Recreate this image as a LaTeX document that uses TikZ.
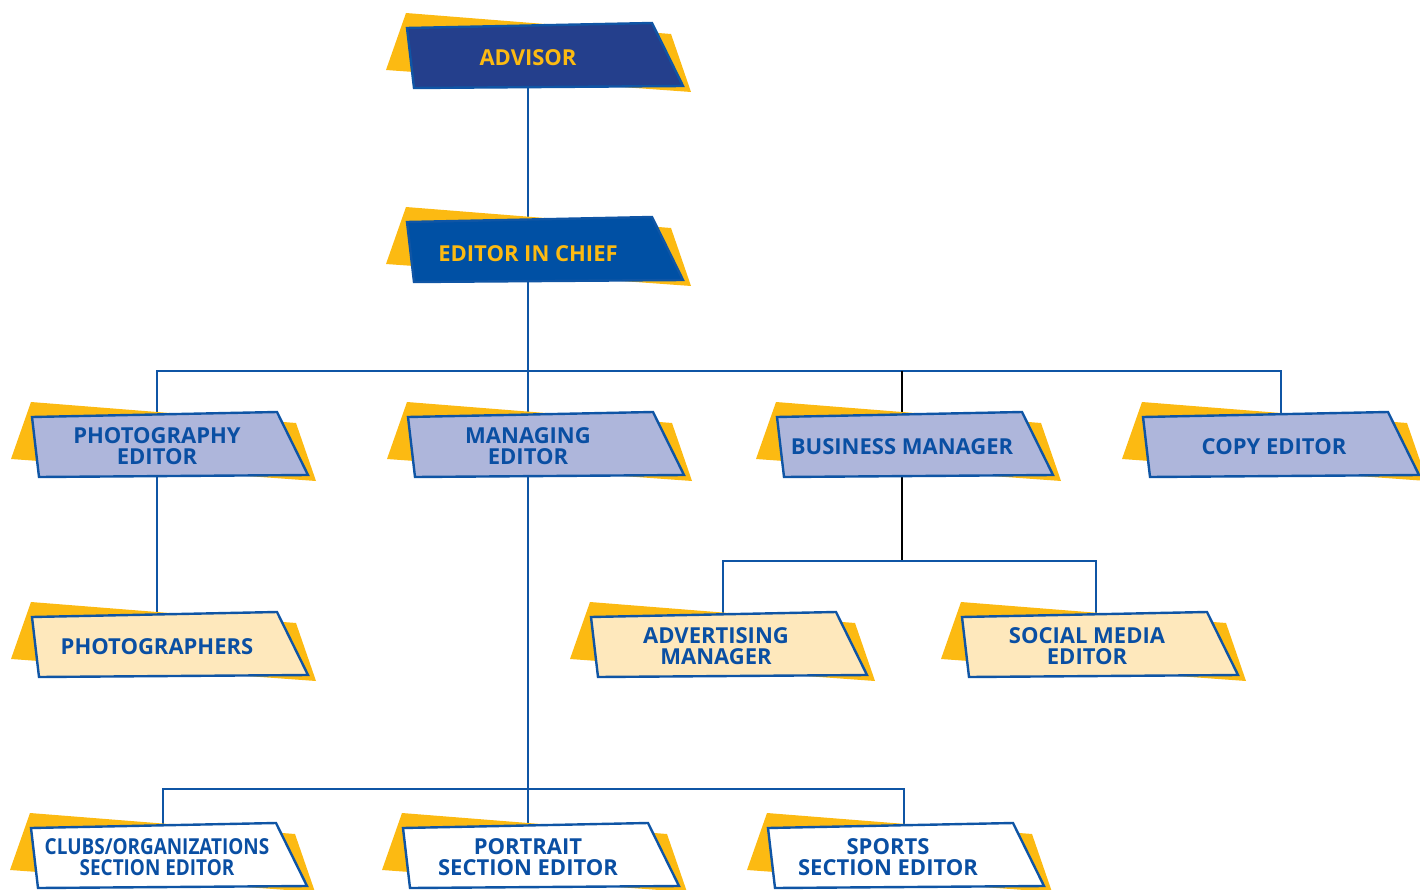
\documentclass[tikz,border=0pt]{standalone}
\usepackage{graphicx}
\usepackage{fontspec}
\setmainfont{Open Sans}
\usetikzlibrary{calc}
\pgfdeclarelayer{bg}
\pgfsetlayers{bg,main}
\definecolor{ylw}{HTML}{FCBA12}
\definecolor{navy}{HTML}{243F8C}
\definecolor{royal}{HTML}{0050A4}
\definecolor{lav}{HTML}{AEB6DB}
\definecolor{cream}{HTML}{FEE8BC}
\definecolor{tblue}{HTML}{0A4FA3}
\definecolor{lblue}{HTML}{0F55A5}
\tikzset{
  backshape/.style={fill=ylw},
  frontshape/.style={draw=lblue, line width=2.4pt, line join=miter},
  lbl/.style={inner sep=0pt, minimum width=246pt, minimum height=62pt, align=center,
    font=\bfseries\fontsize{22}{21}\selectfont},
  conn/.style={draw=lblue, line width=2.4pt},
  connk/.style={draw=black, line width=2.4pt},
}
% [#1 text y offset], #2 name, #3 centre, #4 shape x offset, #5 fill, #6 text colour, #7 text
\newcommand\orgbox[7][2]{%
  \begin{scope}[shift={#3}]
    \begin{scope}[xshift=#4pt]
      \fill[backshape] (-126,-43) -- (139,-22) -- (159,36) -- (-146,14) -- cycle;
      \filldraw[frontshape, fill=#5] (-125,-28) -- (120,-33) -- (151,30) -- (-118,32) -- cycle;
    \end{scope}
    \node[lbl, text=#6] (#2) at (0,#1) {#7};
  \end{scope}}
\begin{document}
\begin{tikzpicture}[x=1pt,y=-1pt]
\useasboundingbox (0,0) rectangle (1420,890);
\orgbox{advisor}{(528,56)}{4}{navy}{ylw}{ADVISOR}
\orgbox[4]{eic}{(528,250)}{4}{royal}{ylw}{EDITOR IN CHIEF}
\orgbox[1.5]{photo}{(157,445)}{0}{lav}{tblue}{PHOTOGRAPHY\\EDITOR}
\orgbox[1.5]{mge}{(528,445)}{5}{lav}{tblue}{MANAGING\\EDITOR}
\orgbox[1.5]{bm}{(902,445)}{0}{lav}{tblue}{BUSINESS MANAGER}
\orgbox[1.5]{copy}{(1274,445)}{-6}{lav}{tblue}{COPY EDITOR}
\orgbox[1.5]{phs}{(157,645)}{0}{cream}{tblue}{PHOTOGRAPHERS}
\orgbox[1.5]{adv}{(716,645)}{0}{cream}{tblue}{ADVERTISING\\MANAGER}
\orgbox[1.5]{soc}{(1087,645)}{0}{cream}{tblue}{SOCIAL MEDIA\\EDITOR}
\orgbox[1.5]{clubs}{(157,856)}{-1}{white}{tblue}{\scalebox{0.86}[1]{CLUBS/ORGANIZATIONS}\\\scalebox{0.86}[1]{SECTION EDITOR}}
\orgbox[1.5]{portrait}{(528,856)}{0}{white}{tblue}{PORTRAIT\\SECTION EDITOR}
\orgbox[1.5]{sports}{(888,856)}{5}{white}{tblue}{SPORTS\\SECTION EDITOR}
\coordinate (b2) at (528,371);
\coordinate (b3) at (902,561);
\coordinate (b4) at (528,789);
\begin{pgfonlayer}{bg}
  \draw[conn] (advisor.center) -- (eic.center);
  \draw[conn] (eic.center) -- (mge.center);
  \draw[conn] (photo.center) |- (b2) -| ([xshift=7pt]copy.center);
  \draw[connk] (b2 -| bm.center) -- (bm.center);
  \draw[connk] (bm.center) -- (b3);
  \draw[conn] ([xshift=7pt]adv.center) |- (b3) -| ([xshift=9pt]soc.center);
  \draw[conn] (photo.center) -- (phs.center);
  \draw[conn] (mge.center) -- (b4);
  \draw[conn] ([xshift=6pt]clubs.center) |- (b4) -| ([xshift=16pt]sports.center);
  \draw[conn] (b4) -- (portrait.center);
\end{pgfonlayer}
\end{tikzpicture}
\end{document}
